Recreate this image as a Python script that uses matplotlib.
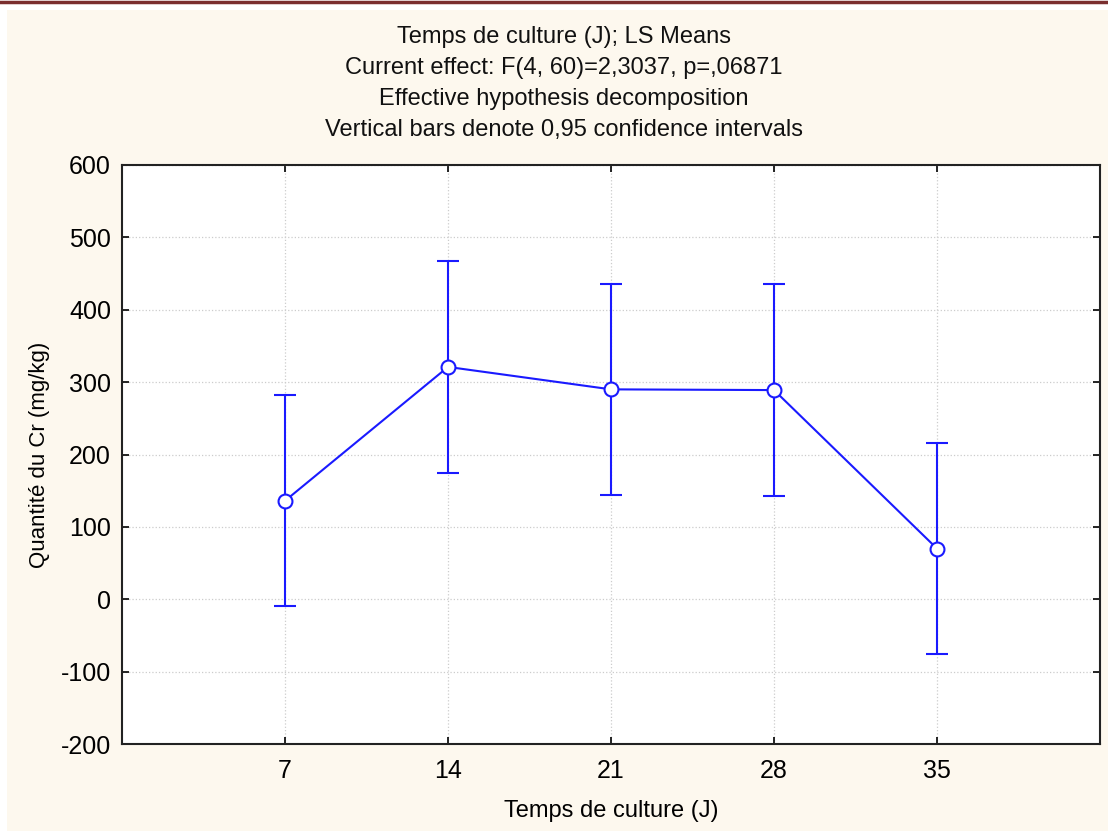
import matplotlib.pyplot as plt
from matplotlib.patches import Rectangle
from matplotlib.lines import Line2D

# data
jours = ["7", "14", "21", "28", "35"]
moyennes = [136, 321, 290, 289, 70]
ic_bas = [-10, 175, 144, 143, -76]
ic_haut = [282, 467, 436, 435, 216]

titre = ["Temps de culture (J); LS Means",
         "Current effect: F(4, 60)=2,3037, p=,06871",
         "Effective hypothesis decomposition",
         "Vertical bars denote 0,95 confidence intervals"]

plt.rcParams['font.family'] = ['Liberation Sans', 'DejaVu Sans']
plt.rcParams['axes.unicode_minus'] = False

W, H = 1108, 831
fig = plt.figure(figsize=(W / 100, H / 100), dpi=100, facecolor='white')

# cream background panel and dark red rule on top
fig.patches.append(Rectangle((7 / W, 0), 1 - 7 / W, 1 - 10 / H, transform=fig.transFigure,
                             facecolor='#fdf8ee', edgecolor='none', zorder=-5))
fig.lines.append(Line2D([0, 1], [1 - 1.5 / H, 1 - 1.5 / H], transform=fig.transFigure,
                        color='#7a2e2e', linewidth=2.5))

ax = fig.add_axes([122 / W, 1 - 744 / H, (1100 - 122) / W, (744 - 165) / H])
ax.set_zorder(2)
ax.set_facecolor('white')

x = list(range(1, len(jours) + 1))
err_bas = [m - b for m, b in zip(moyennes, ic_bas)]
err_haut = [h - m for m, h in zip(moyennes, ic_haut)]

ax.errorbar(x, moyennes, yerr=[err_bas, err_haut], color='#1a1aff', linewidth=1.5,
            elinewidth=1.5, capsize=8, capthick=1.5, marker='o', markersize=10,
            markerfacecolor='white', markeredgecolor='#1a1aff', markeredgewidth=1.5, zorder=3)

ax.set_xlim(0, 6)
ax.set_ylim(-200, 600)
ax.set_xticks(x)
ax.set_xticklabels(jours)
ax.set_yticks(range(-200, 601, 100))
ax.tick_params(direction='in', top=True, right=True, labelsize=18, length=5, width=1.2)
ax.tick_params(axis='y', pad=8)
ax.tick_params(axis='x', pad=11)
ax.grid(True, color='#cccccc', linestyle=':', linewidth=0.9)
for s in ax.spines.values():
    s.set_linewidth(1.5)
    s.set_color('#222222')

ax.set_xlabel("Temps de culture (J)", fontsize=17, labelpad=12)
ax.set_ylabel("Quantité du Cr (mg/kg)", fontsize=16, labelpad=8)

for i, ligne in enumerate(titre):
    fig.text(564 / W, 1 - (37 + 31 * i) / H, ligne, ha='center', va='center', fontsize=17,
             color='#111111')

fig.savefig("out.png", dpi=100, facecolor=fig.get_facecolor())
